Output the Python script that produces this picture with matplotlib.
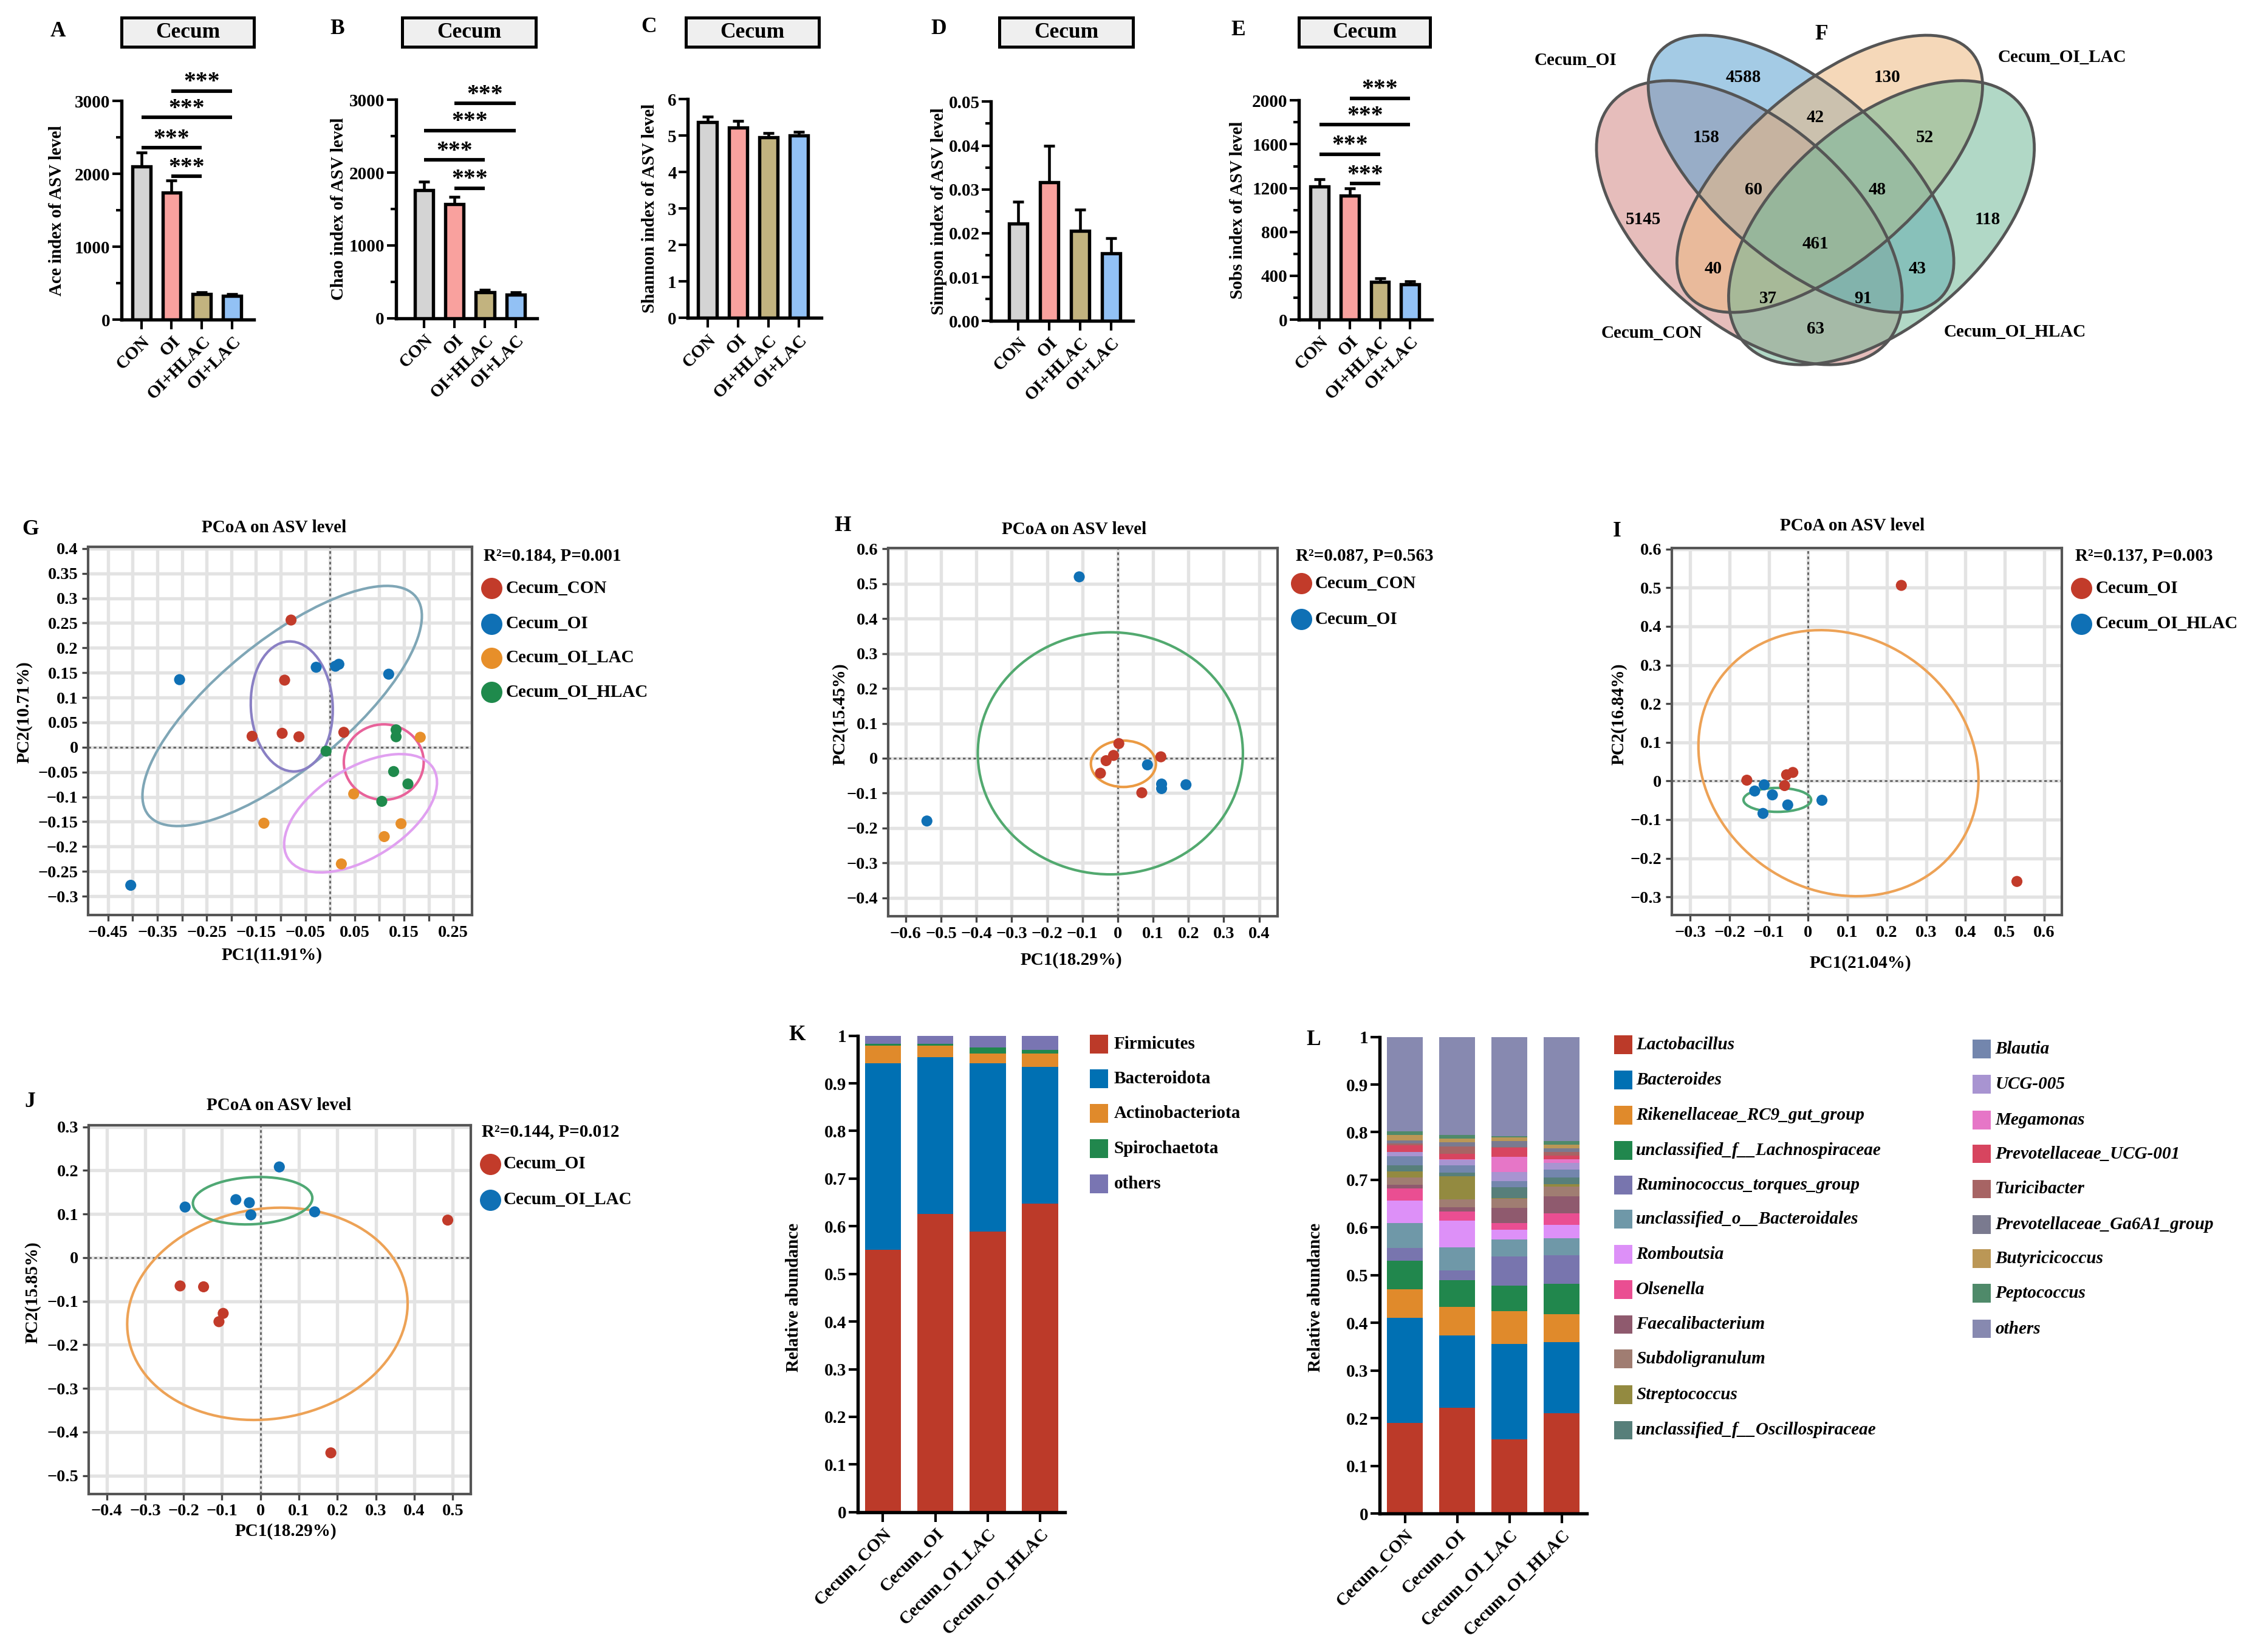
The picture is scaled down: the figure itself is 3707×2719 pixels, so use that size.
import matplotlib
matplotlib.use('Agg')
import matplotlib.pyplot as plt
from matplotlib.patches import Ellipse, Rectangle
from matplotlib.lines import Line2D
import numpy as np

plt.rcParams['font.family'] = ['Liberation Serif', 'DejaVu Serif']
plt.rcParams['font.weight'] = 'bold'
plt.rcParams['axes.unicode_minus'] = True

# ---------------- data ----------------
# alpha diversity (A-E)
groups = ['CON', 'OI', 'OI+HLAC', 'OI+LAC']
group_colors = ['#d4d4d4', '#f9a19e', '#c2b37f', '#92c1f5']

ace_mean = [2100, 1747, 353, 327]
ace_err = [197, 167, 26, 22]
chao_mean = [1763, 1563, 356, 327]
chao_err = [116, 100, 36, 26]
shannon_mean = [5.37, 5.22, 4.96, 5.00]
shannon_err = [0.15, 0.19, 0.11, 0.11]
simpson_mean = [0.0222, 0.0316, 0.0206, 0.0154]
simpson_err = [0.0050, 0.0084, 0.0048, 0.0035]
sobs_mean = [1213, 1129, 346, 324]
sobs_err = [69, 71, 33, 25]

# significance brackets (bar i, bar j) and their heights
sig_pairs = [(1, 3), (0, 3), (0, 2), (1, 2)]
ace_sig = [3141, 2777, 2361, 1970]
chao_sig = [2952, 2580, 2176, 1786]
sobs_sig = [2020, 1777, 1510, 1240]

# Venn (F)
venn_sets = ['Cecum_CON', 'Cecum_OI', 'Cecum_OI_LAC', 'Cecum_OI_HLAC']
venn_regions = ['CON', 'OI', 'LAC', 'HLAC', 'CON&OI', 'OI&LAC', 'LAC&HLAC',
                'CON&HLAC', 'CON&LAC', 'OI&HLAC', 'CON&OI&LAC', 'OI&LAC&HLAC',
                'CON&LAC&HLAC', 'CON&OI&HLAC', 'ALL']
venn_counts = [5145, 4588, 130, 118, 158, 42, 52, 63, 40, 43, 60, 48, 37, 91, 461]

# PCoA (G-J)
g_con_x = [-0.079, -0.092, -0.158, -0.097, -0.063, 0.028]
g_con_y = [0.256, 0.135, 0.022, 0.028, 0.021, 0.030]
g_oi_x = [-0.305, -0.028, 0.011, 0.018, 0.119, -0.404]
g_oi_y = [0.136, 0.161, 0.163, 0.167, 0.147, -0.278]
g_lac_x = [0.183, 0.048, -0.134, 0.144, 0.110, 0.023]
g_lac_y = [0.020, -0.094, -0.153, -0.154, -0.180, -0.235]
g_hlac_x = [0.134, 0.134, -0.008, 0.129, 0.158, 0.105]
g_hlac_y = [0.035, 0.021, -0.008, -0.049, -0.074, -0.109]

h_con_x = [0.003, -0.012, -0.033, -0.049, 0.122, 0.068]
h_con_y = [0.042, 0.008, -0.007, -0.043, 0.004, -0.099]
h_oi_x = [-0.109, -0.540, 0.084, 0.124, 0.124, 0.193]
h_oi_y = [0.520, -0.180, -0.019, -0.074, -0.087, -0.076]

i_oi_x = [0.237, 0.531, -0.156, -0.055, -0.039, -0.060]
i_oi_y = [0.506, -0.260, 0.002, 0.016, 0.022, -0.012]
i_hlac_x = [-0.112, -0.136, -0.091, -0.052, -0.115, 0.035]
i_hlac_y = [-0.010, -0.026, -0.036, -0.062, -0.084, -0.050]

j_oi_x = [0.487, -0.209, -0.148, -0.097, -0.108, 0.183]
j_oi_y = [0.086, -0.065, -0.067, -0.128, -0.147, -0.448]
j_lac_x = [0.049, -0.196, -0.064, -0.029, -0.025, 0.141]
j_lac_y = [0.208, 0.116, 0.133, 0.126, 0.098, 0.105]

# confidence ellipses: centre x, centre y, width, height, angle
g_ell_oi = (-0.097, 0.083, 0.698, 0.26, 39)
g_ell_con = (-0.0775, 0.082, 0.166, 0.262, 3)
g_ell_hlac = (0.109, -0.030, 0.162, 0.152, 0)
g_ell_lac = (0.062, -0.133, 0.346, 0.182, 31.5)
h_ell_oi = (-0.021, 0.014, 0.75, 0.694, 0)
h_ell_con = (0.016, -0.016, 0.184, 0.133, 0)
i_ell_oi = (0.077, 0.046, 0.745, 0.653, -37.4)
i_ell_hlac = (-0.0785, -0.049, 0.172, 0.062, 0)
j_ell_oi = (0.018, -0.129, 0.732, 0.483, 6.5)
j_ell_lac = (-0.0205, 0.1305, 0.311, 0.108, 2.5)

# composition (K, L)
samples = ['Cecum_CON', 'Cecum_OI', 'Cecum_OI_LAC', 'Cecum_OI_HLAC']
phyla = ['Firmicutes', 'Bacteroidota', 'Actinobacteriota', 'Spirochaetota', 'others']
phyla_colors = ['#bc3a29', '#0070b3', '#e08a2b', '#21874d', '#7975b2']
firmicutes = [0.551, 0.626, 0.589, 0.647]
bacteroidota = [0.391, 0.329, 0.353, 0.288]
actinobacteriota = [0.037, 0.024, 0.021, 0.028]
spirochaetota = [0.004, 0.004, 0.012, 0.007]
phyla_others = [0.017, 0.017, 0.025, 0.030]

genera = ['Lactobacillus', 'Bacteroides', 'Rikenellaceae_RC9_gut_group',
          'unclassified_f__Lachnospiraceae', 'Ruminococcus_torques_group',
          'unclassified_o__Bacteroidales', 'Romboutsia', 'Olsenella',
          'Faecalibacterium', 'Subdoligranulum', 'Streptococcus',
          'unclassified_f__Oscillospiraceae', 'Blautia', 'UCG-005', 'Megamonas',
          'Prevotellaceae_UCG-001', 'Turicibacter', 'Prevotellaceae_Ga6A1_group',
          'Butyricicoccus', 'Peptococcus', 'others']
genus_colors = ['#bc3a29', '#0070b3', '#e08a2b', '#21874d', '#7875ae', '#6f98a8',
                '#dd90f8', '#ea4e92', '#8f5a6e', '#a07d72', '#938a40', '#577f7a',
                '#7386ad', '#a894d1', '#e676c7', '#d7455f', '#a76464', '#7a7a8f',
                '#bb9756', '#4f8a6a', '#8789b0']
con_genus = [0.190, 0.220, 0.060, 0.060, 0.027, 0.053, 0.047, 0.025, 0.008, 0.015,
             0.013, 0.012, 0.020, 0.008, 0.001, 0.014, 0.004, 0.006, 0.011, 0.008, 0.198]
oi_genus = [0.222, 0.152, 0.060, 0.055, 0.021, 0.048, 0.056, 0.020, 0.008, 0.017,
            0.048, 0.008, 0.015, 0.012, 0.001, 0.012, 0.015, 0.009, 0.008, 0.007, 0.206]
lac_genus = [0.155, 0.201, 0.068, 0.054, 0.061, 0.036, 0.020, 0.015, 0.031, 0.020,
             0.001, 0.022, 0.013, 0.020, 0.031, 0.019, 0.002, 0.012, 0.008, 0.003, 0.208]
hlac_genus = [0.210, 0.149, 0.059, 0.064, 0.060, 0.036, 0.028, 0.024, 0.035, 0.021,
              0.005, 0.014, 0.017, 0.013, 0.008, 0.008, 0.008, 0.007, 0.008, 0.008, 0.218]

# ---------------- layout helpers ----------------
W, H = 1568.0, 1150.0  # layout grid (preview pixels)
fig = plt.figure(figsize=(3707 / 300, 2719 / 300), dpi=300)


def ax_at(x0, y0, x1, y1):
    return fig.add_axes([x0 / W, 1 - y1 / H, (x1 - x0) / W, (y1 - y0) / H])


def ftext(x, y, s, **kw):
    return fig.text(x / W, 1 - y / H, s, **kw)


def num(v):
    v = round(v, 3)
    if abs(v) < 1e-9:
        return '0'
    return ('%g' % v).replace('-', '\u2212')


def alpha_panel(pos, xlim, mean, err, top, major, minor, fmt, ylabel, lab_x,
                letter, letter_xy, box_x, sig=None):
    ax = ax_at(*pos)
    x = np.arange(len(groups))
    ax.errorbar(x, mean, yerr=[[0] * len(err), err], fmt='none', ecolor='black',
                elinewidth=1.1, capsize=2.2, capthick=1.1, zorder=2)
    ax.bar(x, mean, width=0.6, color=group_colors, edgecolor='black',
           linewidth=1.3, zorder=3)
    ax.set_xlim(*xlim)
    ax.set_ylim(0, top)
    for s in ('top', 'right'):
        ax.spines[s].set_visible(False)
    for s in ('left', 'bottom'):
        ax.spines[s].set_linewidth(1.3)
    ax.spines['left'].set_bounds(0, top)
    ax.set_yticks(major)
    ax.set_yticklabels([fmt(v) for v in major], fontsize=7)
    if minor is not None:
        ax.set_yticks(minor, minor=True)
    ax.tick_params(axis='y', which='major', length=3.5, width=1.0, pad=1)
    ax.tick_params(axis='y', which='minor', length=2.2, width=1.0)
    ax.set_xticks(x)
    ax.set_xticklabels(groups, rotation=45, ha='right', rotation_mode='anchor',
                       fontsize=7)
    ax.tick_params(axis='x', length=3.8, width=1.0, pad=1.5)
    if sig is not None:
        for (i, j), h in zip(sig_pairs, sig):
            ax.plot([i, j], [h, h], color='black', lw=1.4, solid_capstyle='butt',
                    clip_on=False)
            ax.text((i + j) / 2, h + 0.012 * top, '***', ha='center', va='baseline',
                    fontsize=9.5, clip_on=False)
    ftext(lab_x, (pos[1] + pos[3]) / 2, ylabel, rotation=90, ha='center',
          va='center', fontsize=7)
    ftext(letter_xy[0], letter_xy[1], letter, ha='center', va='center', fontsize=8.5)
    x0, x1 = box_x
    fig.add_artist(Rectangle((x0 / W, 1 - 32.5 / H), (x1 - x0) / W, 20.2 / H,
                             transform=fig.transFigure, facecolor='#efefef',
                             edgecolor='black', linewidth=1.2))
    ftext((x0 + x1) / 2, 22.6, 'Cecum', ha='center', va='center', fontsize=8.5)
    return ax


def pcoa_panel(pos, xlim, ylim, xmajor, xminor, ymajor, series, ells, stat,
               xlabel, ylabel, xlab_xy, ylab_xy, title_xy, letter, letter_xy,
               stat_xy, key_x, key_ys, text_x):
    ax = ax_at(*pos)
    ax.set_xlim(*xlim)
    ax.set_ylim(*ylim)
    ax.set_xticks(xmajor)
    ax.set_xticklabels([num(v) for v in xmajor], fontsize=6.8)
    if xminor is not None:
        ax.set_xticks(xminor, minor=True)
    ax.set_yticks(ymajor)
    ax.set_yticklabels([num(v) for v in ymajor], fontsize=6.8)
    ax.grid(True, which='both', color='#e3e3e3', lw=1.3, zorder=0)
    ax.set_axisbelow(True)
    ax.tick_params(which='both', length=2.5, width=0.8, color='#444', pad=1.5)
    for s in ax.spines.values():
        s.set_color('#555555')
        s.set_linewidth(1.0)
    ax.axhline(0, color='#666666', lw=0.7, ls=(0, (1.5, 1.5)), zorder=1)
    ax.axvline(0, color='#666666', lw=0.7, ls=(0, (1.5, 1.5)), zorder=1)
    for (cx, cy, w, h, ang), col in ells:
        ax.add_patch(Ellipse((cx, cy), w, h, angle=ang, fill=False,
                             edgecolor=col, lw=1.0, zorder=2))
    for name, col, xs, ys in series:
        ax.scatter(xs, ys, s=19, color=col, edgecolors='none', zorder=3)
    ftext(title_xy[0], title_xy[1], 'PCoA on ASV level', ha='center', va='center',
          fontsize=7)
    ftext(letter_xy[0], letter_xy[1], letter, ha='center', va='center', fontsize=8.5)
    ftext(xlab_xy[0], xlab_xy[1], xlabel, ha='center', va='center', fontsize=7)
    ftext(ylab_xy[0], ylab_xy[1], ylabel, ha='center', va='center', rotation=90,
          fontsize=7)
    ftext(stat_xy[0], stat_xy[1], stat, ha='left', va='center', fontsize=7)
    for (name, col, xs, ys), ky in zip(series, key_ys):
        fig.add_artist(Line2D([key_x / W], [1 - ky / H], marker='o', markersize=8.4,
                              color=col, markeredgewidth=0, linestyle='none',
                              transform=fig.transFigure))
        ftext(text_x, ky, name, ha='left', va='center', fontsize=7)
    return ax


def stack_panel(pos, series, colors, ylabel, lab_xy, letter, letter_xy):
    ax = ax_at(*pos)
    x = np.arange(len(samples))
    bottom = np.zeros(len(samples))
    for vals, col in zip(series, colors):
        ax.bar(x, vals, bottom=bottom, width=0.69, color=col, edgecolor='none',
               zorder=2)
        bottom += np.array(vals)
    ax.set_xlim(-0.48, 3.48)
    ax.set_ylim(0, 1)
    for s in ('top', 'right'):
        ax.spines[s].set_visible(False)
    for s in ('left', 'bottom'):
        ax.spines[s].set_linewidth(1.3)
    ticks = np.round(np.arange(0, 1.01, 0.1), 1)
    ax.set_yticks(ticks)
    ax.set_yticklabels([num(v) for v in ticks], fontsize=7)
    ax.tick_params(axis='y', length=3.5, width=1.0, pad=1)
    ax.set_xticks(x)
    ax.set_xticklabels(samples, rotation=45, ha='right', rotation_mode='anchor',
                       fontsize=7)
    ax.tick_params(axis='x', length=3.8, width=1.0, pad=1.5)
    ftext(lab_xy[0], lab_xy[1], ylabel, rotation=90, ha='center', va='center',
          fontsize=7)
    ftext(letter_xy[0], letter_xy[1], letter, ha='center', va='center', fontsize=8.5)
    return ax


def legend_rows(names, colors, sq_x, text_x, ys, italic=False):
    for name, col, y in zip(names, colors, ys):
        fig.add_artist(Rectangle((sq_x / W, 1 - (y + 6.5) / H), 12.7 / W, 13 / H,
                                 transform=fig.transFigure, facecolor=col,
                                 edgecolor='none'))
        ftext(text_x, y, name, ha='left', va='center', fontsize=7,
              style='italic' if italic else 'normal')


# ---------------- A-E ----------------
fmt_int = lambda v: '%d' % v
alpha_panel((84.6, 70.4, 176.8, 222.6), (-0.65, 3.71), ace_mean, ace_err, 3000,
            [0, 1000, 2000, 3000], [500, 1500, 2500], fmt_int,
            'Ace index of ASV level', 39.6, 'A', (40.4, 21.7), (84.6, 176.8), ace_sig)
alpha_panel((275.6, 69.5, 374, 221.5), (-0.93, 3.71), chao_mean, chao_err, 3000,
            [0, 1000, 2000, 3000], [500, 1500, 2500], fmt_int,
            'Chao index of ASV level', 236, 'B', (235, 20), (280, 373), chao_sig)
alpha_panel((479, 69, 571.7, 221.4), (-0.64, 3.73), shannon_mean, shannon_err, 6,
            [0, 1, 2, 3, 4, 5, 6], None, fmt_int,
            'Shannon index of ASV level', 452.5, 'C', (451.7, 19), (477.6, 570.3))
alpha_panel((690, 70.8, 788.7, 223.4), (-0.88, 3.7), simpson_mean, simpson_err, 0.05,
            [0, 0.01, 0.02, 0.03, 0.04, 0.05], [0.005, 0.015, 0.025, 0.035, 0.045],
            lambda v: '%.2f' % v,
            'Simpson index of ASV level', 653.6, 'D', (653.6, 20), (696, 788.7))
alpha_panel((904.5, 69.9, 997, 222.5), (-0.68, 3.72), sobs_mean, sobs_err, 2000,
            [0, 400, 800, 1200, 1600, 2000], [200, 600, 1000, 1400, 1800], fmt_int,
            'Sobs index of ASV level', 862, 'E', (862, 20.8), (904.5, 995.8), sobs_sig)

# ---------------- F: Venn ----------------
vax = ax_at(1080, 10, 1480, 270)
vax.set_xlim(-184, 216)
vax.set_ylim(-120, 140)
vax.axis('off')
venn_shapes = [((-46, -5), 254, 141, -41), ((-10, 29), 260, 122, -40.6),
               ((10, 29), 260, 122, 40.6), ((46, -5), 254, 141, 41)]
venn_fill = ['#d38783', '#59a1d1', '#edb981', '#71b997']
for (c, w, h, ang), col in zip(venn_shapes, venn_fill):
    vax.add_patch(Ellipse(c, w, h, angle=ang, facecolor=col, alpha=0.55,
                          edgecolor='none'))
for c, w, h, ang in venn_shapes:
    vax.add_patch(Ellipse(c, w, h, angle=ang, fill=False, edgecolor='#555555',
                          lw=1.15))
region_xy = {'CON': (-120, -3), 'OI': (-50, 96), 'LAC': (50, 96), 'HLAC': (120, -3),
             'CON&OI': (-76, 54), 'OI&LAC': (0, 68), 'LAC&HLAC': (76, 54),
             'CON&HLAC': (0, -79), 'CON&LAC': (-71, -37), 'OI&HLAC': (71, -37),
             'CON&OI&LAC': (-43, 18), 'OI&LAC&HLAC': (43, 18),
             'CON&LAC&HLAC': (-33, -58), 'CON&OI&HLAC': (33, -58), 'ALL': (0, -20)}
for r, n in zip(venn_regions, venn_counts):
    vax.text(*region_xy[r], str(n), ha='center', va='center', fontsize=7)
set_xy = [(-114, -82), (-167, 108), (172, 110), (139, -81)]
for name, (sx, sy) in zip(venn_sets, set_xy):
    vax.text(sx, sy, name, ha='center', va='center', fontsize=7)
vax.text(4, 126, 'F', ha='center', va='center', fontsize=8.5)

# ---------------- G-J: PCoA ----------------
red, blue, orange, green = '#c23b2a', '#0f70b5', '#e78f2a', '#1f8a4c'

pcoa_panel((61.5, 380.8, 328.5, 637), (-0.49, 0.2875), (-0.338, 0.403),
           np.round(np.arange(-0.45, 0.26, 0.1), 2),
           np.round(np.arange(-0.4, 0.21, 0.1), 2),
           np.round(np.arange(-0.3, 0.41, 0.05), 2),
           [('Cecum_CON', red, g_con_x, g_con_y), ('Cecum_OI', blue, g_oi_x, g_oi_y),
            ('Cecum_OI_LAC', orange, g_lac_x, g_lac_y),
            ('Cecum_OI_HLAC', green, g_hlac_x, g_hlac_y)],
           [(g_ell_oi, '#7fa6b6'), (g_ell_con, '#8a80c4'), (g_ell_hlac, '#e8629a'),
            (g_ell_lac, '#e0a0f0')],
           'R\u00b2=0.184, P=0.001', 'PC1(11.91%)', 'PC2(10.71%)',
           (189.3, 665.2), (16.8, 495.8), (191, 367.4), 'G', (21, 368.5),
           (336.6, 386.8), 342.1, [409.5, 434.3, 458, 481.8], 352.1)

pcoa_panel((618.3, 381.4, 889.5, 637.8), (-0.65, 0.452), (-0.453, 0.603),
           np.round(np.arange(-0.6, 0.41, 0.1), 1), None,
           np.round(np.arange(-0.4, 0.61, 0.1), 1),
           [('Cecum_CON', red, h_con_x, h_con_y), ('Cecum_OI', blue, h_oi_x, h_oi_y)],
           [(h_ell_oi, '#52a96f'), (h_ell_con, '#eb9a43')],
           'R\u00b2=0.087, P=0.563', 'PC1(18.29%)', 'PC2(15.45%)',
           (746, 668.4), (585, 496.9), (748, 368.5), 'H', (586.7, 366),
           (902.4, 386.8), 906, [406.2, 431], 915.4)

pcoa_panel((1164, 381.4, 1435.8, 637), (-0.347, 0.646), (-0.347, 0.603),
           np.round(np.arange(-0.3, 0.61, 0.1), 1), None,
           np.round(np.arange(-0.3, 0.61, 0.1), 1),
           [('Cecum_OI', red, i_oi_x, i_oi_y),
            ('Cecum_OI_HLAC', blue, i_hlac_x, i_hlac_y)],
           [(i_ell_oi, '#eda256'), (i_ell_hlac, '#4fa874')],
           'R\u00b2=0.137, P=0.003', 'PC1(21.04%)', 'PC2(16.84%)',
           (1295.4, 670.6), (1127.3, 496.9), (1289.6, 366), 'I', (1126, 370),
           (1444.8, 386.8), 1449.3, [409.5, 434.3], 1459)

pcoa_panel((61.7, 783.5, 327.8, 1039.9), (-0.447, 0.547), (-0.542, 0.303),
           np.round(np.arange(-0.4, 0.51, 0.1), 1), None,
           np.round(np.arange(-0.5, 0.31, 0.1), 1),
           [('Cecum_OI', red, j_oi_x, j_oi_y), ('Cecum_OI_LAC', blue, j_lac_x, j_lac_y)],
           [(j_ell_oi, '#eda256'), (j_ell_lac, '#4fa874')],
           'R\u00b2=0.144, P=0.012', 'PC1(18.29%)', 'PC2(15.85%)',
           (199, 1065.9), (22.9, 899.5), (194, 769.6), 'J', (20.9, 767),
           (335.5, 787.8), 341.3, [810.2, 835.2], 350.7)

# ---------------- K: phylum ----------------
stack_panel((597.2, 721, 741.7, 1052.6),
            [firmicutes, bacteroidota, actinobacteriota, spirochaetota, phyla_others],
            phyla_colors, 'Relative abundance', (552.6, 903), 'K', (555, 720.4))
legend_rows(phyla, phyla_colors, 759, 775.5, [726.8, 751, 775, 799.5, 824])

# ---------------- L: genus ----------------
genus_table = np.array([con_genus, oi_genus, lac_genus, hlac_genus]).T
stack_panel((960.7, 721.8, 1104.8, 1053.6), list(genus_table), genus_colors,
            'Relative abundance', (915.8, 903), 'L', (914.5, 724))
legend_rows(genera[:12], genus_colors[:12], 1123.7, 1139.2,
            [727.4, 751.9, 776.4, 800.9, 824.9, 848.8, 873.3, 897.8, 922, 946,
             971, 995.6], italic=True)
legend_rows(genera[12:], genus_colors[12:], 1373.6, 1389.2,
            [730.3, 754.8, 779.6, 803.2, 827.7, 852.3, 876.2, 900.4, 925],
            italic=True)

fig.savefig('out.png', dpi=300, facecolor='white')
